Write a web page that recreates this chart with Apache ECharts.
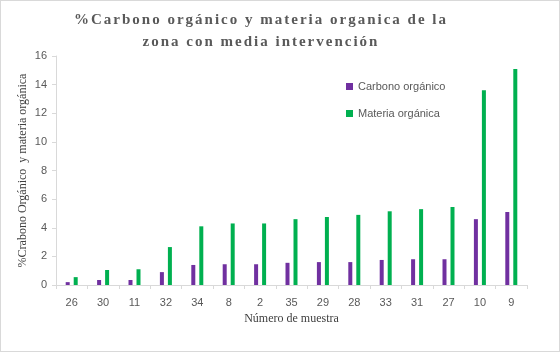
<!DOCTYPE html>
<html>
<head>
<meta charset="utf-8">
<script src="https://cdn.jsdelivr.net/npm/echarts@6/dist/echarts.min.js"></script>
<style>
  html, body { margin: 0; padding: 0; background: #fff; }
  #wrap { position: relative; width: 558px; height: 350px; border: 1px solid #d9d9d9; }
  #chart { width: 558px; height: 350px; }
  #title {
    position: absolute; left: 0; top: 7px; width: 520px; text-align: center;
    font-family: "Liberation Serif", "Times New Roman", serif; font-weight: bold;
    font-size: 15px; line-height: 22px; letter-spacing: 2px; color: #595959;
  }
</style>
</head>
<body>
<div id="wrap">
  <div id="chart"></div>
  <div id="title">%Carbono orgánico y materia organica de la<br>zona con media intervención</div>
</div>
<script>
// muestras ordenadas por contenido
var muestras = ['26', '30', '11', '32', '34', '8', '2', '35', '29', '28', '33', '31', '27', '10', '9']
var carbono = [0.2, 0.35, 0.35, 0.9, 1.4, 1.45, 1.45, 1.55, 1.6, 1.6, 1.75, 1.8, 1.8, 4.6, 5.1]
var materia = [0.55, 1.05, 1.1, 2.65, 4.1, 4.3, 4.3, 4.6, 4.75, 4.9, 5.15, 5.3, 5.45, 13.6, 15.1]

var chart = echarts.init(document.getElementById('chart'))
chart.setOption({
  animation: false,
  grid: {
    left: 55,
    right: 32,
    top: 55,
    bottom: 66
  },
  legend: {
    orient: 'vertical',
    left: 340,
    top: 75,
    itemGap: 16,
    itemWidth: 7,
    itemHeight: 7,
    icon: 'rect',
    textStyle: { color: '#595959', fontSize: 11, fontFamily: 'Liberation Sans' },
    data: ['Carbono orgánico', 'Materia orgánica']
  },
  xAxis: {
    type: 'category',
    data: muestras,
    name: 'Número de muestra',
    nameLocation: 'middle',
    nameGap: 28,
    nameMoveOverlap: false,
    nameTextStyle: { color: '#404040', fontSize: 12, fontFamily: 'Liberation Serif' },
    axisLine: { lineStyle: { color: '#d9d9d9' } },
    axisTick: { show: true, alignWithLabel: false, length: 4, lineStyle: { color: '#d9d9d9' } },
    axisLabel: { color: '#595959', fontSize: 11, fontFamily: 'Liberation Sans', margin: 12 }
  },
  yAxis: {
    type: 'value',
    min: 0,
    max: 16,
    interval: 2,
    name: '%Crabono Orgánico  y materia orgánica',
    nameLocation: 'middle',
    nameGap: 27,
    nameMoveOverlap: false,
    nameTextStyle: { color: '#404040', fontSize: 12, fontFamily: 'Liberation Serif' },
    splitLine: { show: false },
    axisLine: { show: true, lineStyle: { color: '#d9d9d9' } },
    axisTick: { show: true, length: 4, lineStyle: { color: '#d9d9d9' } },
    axisLabel: { color: '#595959', fontSize: 11, fontFamily: 'Liberation Sans', margin: 9 }
  },
  series: [
    {
      name: 'Carbono orgánico',
      type: 'bar',
      data: carbono,
      barWidth: 4,
      barGap: '100%',
      itemStyle: { color: '#7030A0' }
    },
    {
      name: 'Materia orgánica',
      type: 'bar',
      data: materia,
      barWidth: 4,
      barGap: '100%',
      itemStyle: { color: '#00B050' }
    }
  ]
})
</script>
</body>
</html>
